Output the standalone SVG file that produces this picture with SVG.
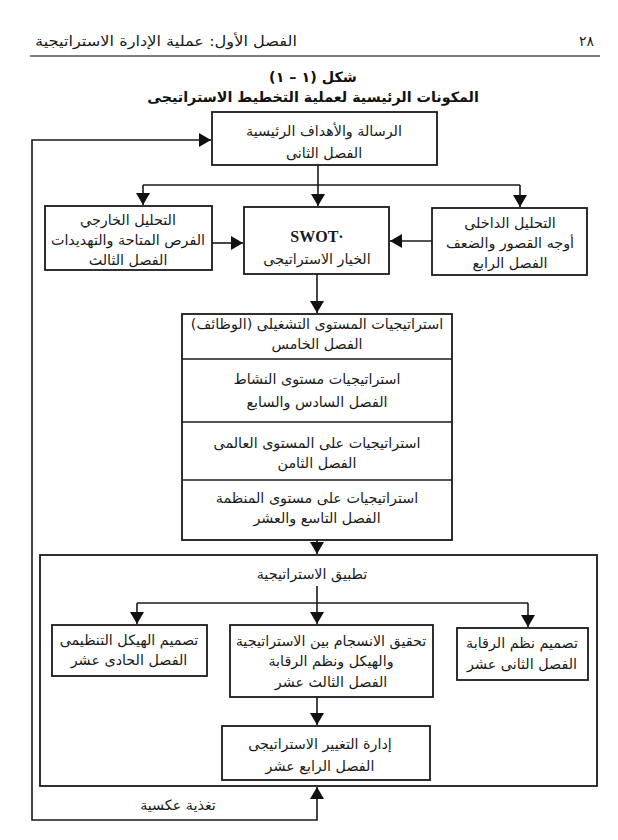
<svg xmlns="http://www.w3.org/2000/svg" width="618" height="840" viewBox="0 0 618 840">
<style>
  .bg{fill:#ffffff}
  .box{fill:#ffffff;stroke:#1a1a1a;stroke-width:1.8}
  .frame{fill:none;stroke:#1a1a1a;stroke-width:1.8}
  .ln{fill:none;stroke:#1a1a1a;stroke-width:1.6}
  .t{font-family:"DejaVu Sans",sans-serif;font-size:14.3px;fill:#1a1a1a;text-anchor:middle;direction:rtl}
  .hd{font-family:"DejaVu Sans",sans-serif;font-size:14px;fill:#1a1a1a;direction:rtl}
  .ti{font-family:"DejaVu Sans",sans-serif;font-size:14.3px;font-weight:bold;fill:#111;text-anchor:middle;direction:rtl}
  .sw{font-family:"Liberation Serif",serif;font-size:16px;font-weight:bold;fill:#1a1a1a;text-anchor:middle}
</style>
<defs>
  <marker id="ah" markerUnits="userSpaceOnUse" markerWidth="14" markerHeight="14" refX="12" refY="7" orient="auto-start-reverse">
    <path d="M0,0 L12,7 L0,14 z" fill="#111"/>
  </marker>
</defs>
<rect class="bg" x="0" y="0" width="618" height="840"/>

<g id="header">
  <text class="hd" x="35" y="46" text-anchor="end" textLength="262" lengthAdjust="spacingAndGlyphs">الفصل الأول: عملية الإدارة الاستراتيجية</text>
  <text class="hd" x="594" y="46" text-anchor="start">٢٨</text>
  <line x1="30" y1="56" x2="600" y2="56" stroke="#555" stroke-width="1.4"/>
  <text class="ti" x="313" y="82">شكل (١ – ١)</text>
  <text class="ti" x="313" y="102">المكونات الرئيسية لعملية التخطيط الاستراتيجى</text>
</g>

<g id="mission">
  <rect class="box" x="212" y="112" width="225" height="53"/>
  <text class="t" x="324" y="136">الرسالة والأهداف الرئيسية</text>
  <text class="t" x="324" y="158">الفصل الثانى</text>
</g>

<g id="external">
  <rect class="box" x="45" y="206" width="167" height="64"/>
  <text class="t" x="128" y="225">التحليل الخارجي</text>
  <text class="t" x="128" y="245">الفرص المتاحة والتهديدات</text>
  <text class="t" x="128" y="265">الفصل الثالث</text>
</g>

<g id="swot">
  <rect class="box" x="244" y="207" width="145" height="67"/>
  <text class="sw" x="317" y="242">SWOT·</text>
  <text class="t" x="317" y="264">الخيار الاستراتيجى</text>
</g>

<g id="internal">
  <rect class="box" x="432" y="208" width="155" height="67"/>
  <text class="t" x="510" y="228">التحليل الداخلى</text>
  <text class="t" x="510" y="248">أوجه القصور والضعف</text>
  <text class="t" x="510" y="268">الفصل الرابع</text>
</g>

<g id="strategies">
  <rect class="box" x="182" y="314" width="270" height="226"/>
  <line class="ln" x1="182" y1="359" x2="452" y2="359"/>
  <line class="ln" x1="182" y1="422" x2="452" y2="422"/>
  <line class="ln" x1="182" y1="480" x2="452" y2="480"/>
  <text class="t" x="317" y="329">استراتيجيات المستوى التشغيلى (الوظائف)</text>
  <text class="t" x="317" y="349">الفصل الخامس</text>
  <text class="t" x="317" y="384">استراتيجيات مستوى النشاط</text>
  <text class="t" x="317" y="407">الفصل السادس والسابع</text>
  <text class="t" x="317" y="448">استراتيجيات على المستوى العالمى</text>
  <text class="t" x="317" y="468">الفصل الثامن</text>
  <text class="t" x="317" y="503">استراتيجيات على مستوى المنظمة</text>
  <text class="t" x="317" y="523">الفصل التاسع والعشر</text>
</g>

<g id="implementation">
  <rect class="frame" x="40" y="555" width="557" height="231"/>
  <text class="t" x="312" y="579">تطبيق الاستراتيجية</text>
</g>

<g id="structure">
  <rect class="box" x="52" y="625" width="155" height="51"/>
  <text class="t" x="129" y="645">تصميم الهيكل التنظيمى</text>
  <text class="t" x="129" y="665">الفصل الحادى عشر</text>
</g>

<g id="alignment">
  <rect class="box" x="230" y="625" width="203" height="72"/>
  <text class="t" x="331" y="646">تحقيق الانسجام بين الاستراتيجية</text>
  <text class="t" x="331" y="666">والهيكل ونظم الرقابة</text>
  <text class="t" x="331" y="687">الفصل الثالث عشر</text>
</g>

<g id="control">
  <rect class="box" x="457" y="628" width="131" height="52"/>
  <text class="t" x="522" y="648">تصميم نظم الرقابة</text>
  <text class="t" x="522" y="669">الفصل الثانى عشر</text>
</g>

<g id="change">
  <rect class="box" x="222" y="726" width="208" height="54"/>
  <text class="t" x="320" y="749">إدارة التغيير الاستراتيجى</text>
  <text class="t" x="320" y="771">الفصل الرابع عشر</text>
</g>

<g id="feedback-label">
  <text class="t" x="178" y="810">تغذية عكسية</text>
</g>

<g id="connectors">
  <path class="ln" d="M317,787 V820 H32 V140 H211" marker-start="url(#ah)" marker-end="url(#ah)"/>
  <path class="ln" d="M318,165 V206" marker-end="url(#ah)"/>
  <path class="ln" d="M143,185 H520"/>
  <path class="ln" d="M143,185 V205" marker-end="url(#ah)"/>
  <path class="ln" d="M520,185 V207" marker-end="url(#ah)"/>
  <path class="ln" d="M212,243 H243" marker-end="url(#ah)"/>
  <path class="ln" d="M432,241 H390" marker-end="url(#ah)"/>
  <path class="ln" d="M317,274 V313" marker-end="url(#ah)"/>
  <path class="ln" d="M317,540 V554" marker-end="url(#ah)"/>
  <path class="ln" d="M317,586 V624" marker-end="url(#ah)"/>
  <path class="ln" d="M137,603 H528"/>
  <path class="ln" d="M137,603 V624" marker-end="url(#ah)"/>
  <path class="ln" d="M528,603 V627" marker-end="url(#ah)"/>
  <path class="ln" d="M317,697 V725" marker-end="url(#ah)"/>
</g>
</svg>
